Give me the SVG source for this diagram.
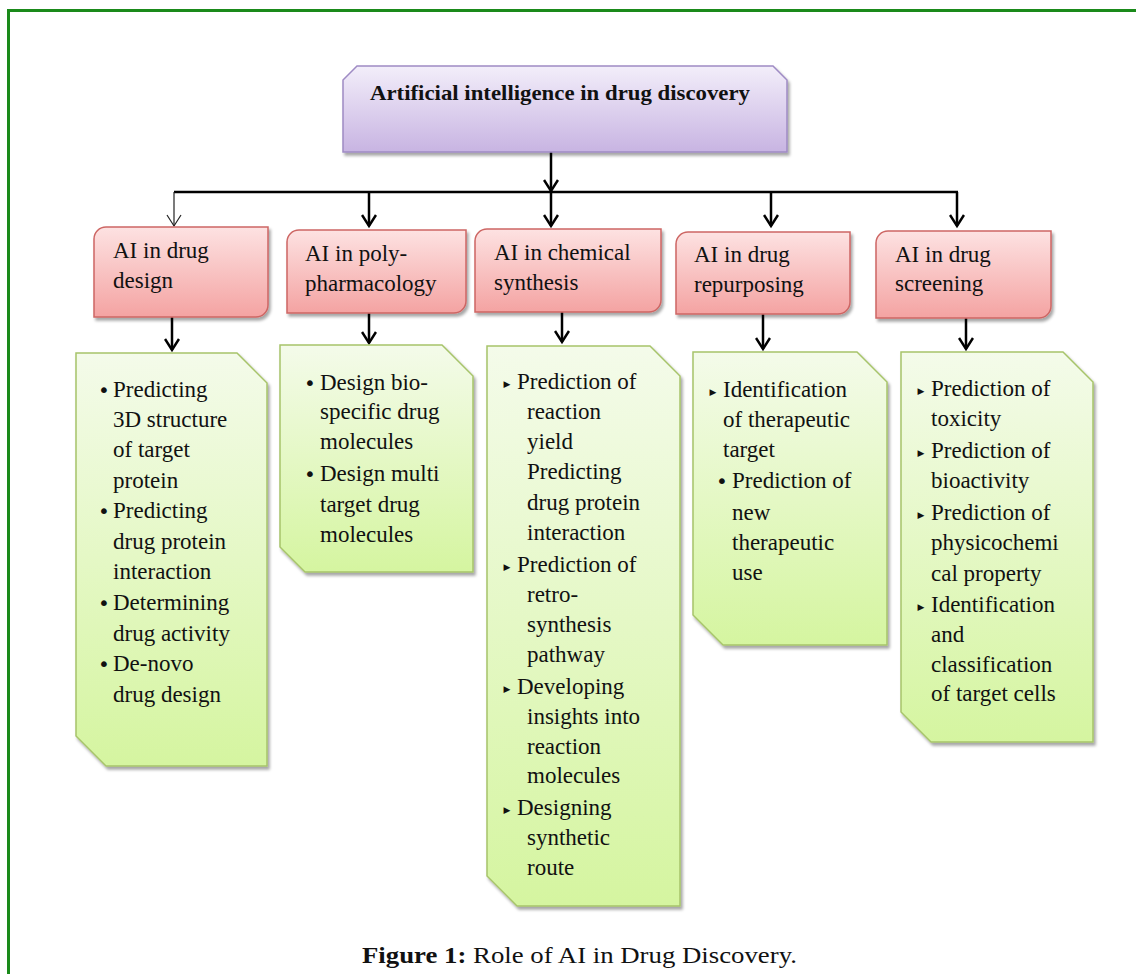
<svg xmlns="http://www.w3.org/2000/svg" width="1136" height="974" viewBox="0 0 1136 974">
<defs>
<linearGradient id="gTitle" x1="0" y1="0" x2="0" y2="1"><stop offset="0" stop-color="#f3eefa"/><stop offset="1" stop-color="#c8b4e2"/></linearGradient>
<linearGradient id="gRed" x1="0" y1="0" x2="0" y2="1"><stop offset="0" stop-color="#fde2e2"/><stop offset="1" stop-color="#f4a3a2"/></linearGradient>
<linearGradient id="gGreen" x1="0" y1="0" x2="0" y2="1"><stop offset="0" stop-color="#f4fbea"/><stop offset="1" stop-color="#d5f5a0"/></linearGradient>
<filter id="sh" x="-10%" y="-10%" width="130%" height="130%"><feDropShadow dx="2" dy="3" stdDeviation="1.5" flood-color="#000" flood-opacity="0.35"/></filter>
<marker id="ah" markerUnits="userSpaceOnUse" markerWidth="16" markerHeight="16" viewBox="-12 -8 14 16" refX="0" refY="0" orient="auto"><path d="M-11,-7 L0,0 L-11,7" fill="none" stroke="#000" stroke-width="2.5"/></marker>
<marker id="ahThin" markerUnits="userSpaceOnUse" markerWidth="16" markerHeight="16" viewBox="-12 -8 14 16" refX="0" refY="0" orient="auto"><path d="M-11,-7 L0,0 L-11,7" fill="none" stroke="#222" stroke-width="1.2"/></marker>
</defs>
<style>
.title{fill:url(#gTitle);stroke:#9f8bc4;stroke-width:1.5}
.red{fill:url(#gRed);stroke:#cd6664;stroke-width:1.5}
.green{fill:url(#gGreen);stroke:#a7c46a;stroke-width:1.5}
.ttl{font-family:"Liberation Serif",serif;font-weight:bold;font-size:21px;fill:#111}
.rt{font-family:"Liberation Serif",serif;font-size:23px;fill:#111}
.gt{font-family:"Liberation Serif",serif;font-size:23px;fill:#111}
.bl{font-family:"DejaVu Sans",sans-serif;font-size:20px;fill:#111;text-anchor:middle}
.tb{font-family:"DejaVu Sans",sans-serif;font-size:9px;fill:#111;text-anchor:middle}
.cap{font-family:"Liberation Serif",serif;font-size:24px;fill:#111}
.c{stroke:#000;stroke-width:2.5;fill:none}
</style>
<rect width="1136" height="974" fill="#fff"/>
<path d="M8.5,974 V10.5 H1136" fill="none" stroke="#1a8a1a" stroke-width="3"/>

<g id="connectors">
<line class="c" x1="551" y1="152" x2="551" y2="191" marker-end="url(#ah)"/>
<line class="c" x1="174" y1="192" x2="958" y2="192"/>
<line x1="174" y1="192" x2="174" y2="226" stroke="#222" stroke-width="1.2" marker-end="url(#ahThin)"/>
<line class="c" x1="369" y1="192" x2="369" y2="226" marker-end="url(#ah)"/>
<line class="c" x1="551" y1="192" x2="551" y2="226" marker-end="url(#ah)"/>
<line class="c" x1="771" y1="192" x2="771" y2="226" marker-end="url(#ah)"/>
<line class="c" x1="957" y1="192" x2="957" y2="226" marker-end="url(#ah)"/>
<line class="c" x1="172" y1="317" x2="172" y2="350" marker-end="url(#ah)"/>
<line class="c" x1="369" y1="313" x2="369" y2="343" marker-end="url(#ah)"/>
<line class="c" x1="562" y1="312" x2="562" y2="342" marker-end="url(#ah)"/>
<line class="c" x1="763" y1="314" x2="763" y2="349" marker-end="url(#ah)"/>
<line class="c" x1="966" y1="318" x2="966" y2="349" marker-end="url(#ah)"/>
</g>

<g id="title">
<path class="title" filter="url(#sh)" d="M343,80 L357,66 H773 L787,80 V152 H343 Z"/>
<text class="ttl" x="370" y="100" textLength="380" lengthAdjust="spacingAndGlyphs">Artificial intelligence in drug discovery</text>
</g>

<g id="red1">
<path class="red" filter="url(#sh)" d="M94,239 A12,12 0 0 1 106,227 H268 V305 A12,12 0 0 1 256,317 H94 Z"/>
<text class="rt" x="113" y="258">AI in drug</text>
<text class="rt" x="113" y="288">design</text>
</g>
<g id="red2">
<path class="red" filter="url(#sh)" d="M287,242 A12,12 0 0 1 299,230 H466 V301 A12,12 0 0 1 454,313 H287 Z"/>
<text class="rt" x="305" y="261">AI in poly-</text>
<text class="rt" x="305" y="291">pharmacology</text>
</g>
<g id="red3">
<path class="red" filter="url(#sh)" d="M475,241 A12,12 0 0 1 487,229 H661 V300 A12,12 0 0 1 649,312 H475 Z"/>
<text class="rt" x="494" y="260">AI in chemical</text>
<text class="rt" x="494" y="290">synthesis</text>
</g>
<g id="red4">
<path class="red" filter="url(#sh)" d="M676,244 A12,12 0 0 1 688,232 H850 V302 A12,12 0 0 1 838,314 H676 Z"/>
<text class="rt" x="694" y="262">AI in drug</text>
<text class="rt" x="694" y="292">repurposing</text>
</g>
<g id="red5">
<path class="red" filter="url(#sh)" d="M876,243 A12,12 0 0 1 888,231 H1051 V306 A12,12 0 0 1 1039,318 H876 Z"/>
<text class="rt" x="895" y="262">AI in drug</text>
<text class="rt" x="895" y="291">screening</text>
</g>

<g id="green1">
<path class="green" filter="url(#sh)" d="M76,353 H237 L267,383 V766 H106 L76,736 Z"/>
<text class="bl" x="104" y="397">•</text>
<text class="bl" x="104" y="518">•</text>
<text class="bl" x="104" y="610">•</text>
<text class="bl" x="104" y="671">•</text>
<text class="gt" x="113" y="397">Predicting</text>
<text class="gt" x="113" y="427">3D structure</text>
<text class="gt" x="113" y="457">of target</text>
<text class="gt" x="113" y="488">protein</text>
<text class="gt" x="113" y="518">Predicting</text>
<text class="gt" x="113" y="549">drug protein</text>
<text class="gt" x="113" y="579">interaction</text>
<text class="gt" x="113" y="610">Determining</text>
<text class="gt" x="113" y="641">drug activity</text>
<text class="gt" x="113" y="671">De-novo</text>
<text class="gt" x="113" y="702">drug design</text>
</g>

<g id="green2">
<path class="green" filter="url(#sh)" d="M280,345 H442 L473,376 V572 H305 L280,547 Z"/>
<text class="bl" x="310" y="390">•</text>
<text class="bl" x="310" y="481">•</text>
<text class="gt" x="320" y="390">Design bio-</text>
<text class="gt" x="320" y="419">specific drug</text>
<text class="gt" x="320" y="449">molecules</text>
<text class="gt" x="320" y="481">Design multi</text>
<text class="gt" x="320" y="512">target drug</text>
<text class="gt" x="320" y="542">molecules</text>
</g>

<g id="green3">
<path class="green" filter="url(#sh)" d="M487,346 H650 L680,376 V906 H517 L487,876 Z"/>
<text class="tb" x="507" y="387">▶</text>
<text class="tb" x="507" y="570">▶</text>
<text class="tb" x="507" y="692">▶</text>
<text class="tb" x="507" y="813">▶</text>
<text class="gt" x="517" y="389">Prediction of</text>
<text class="gt" x="527" y="419">reaction</text>
<text class="gt" x="527" y="449">yield</text>
<text class="gt" x="527" y="479">Predicting</text>
<text class="gt" x="527" y="510">drug protein</text>
<text class="gt" x="527" y="540">interaction</text>
<text class="gt" x="517" y="572">Prediction of</text>
<text class="gt" x="527" y="602">retro-</text>
<text class="gt" x="527" y="632">synthesis</text>
<text class="gt" x="527" y="662">pathway</text>
<text class="gt" x="517" y="694">Developing</text>
<text class="gt" x="527" y="724">insights into</text>
<text class="gt" x="527" y="754">reaction</text>
<text class="gt" x="527" y="783">molecules</text>
<text class="gt" x="517" y="815">Designing</text>
<text class="gt" x="527" y="845">synthetic</text>
<text class="gt" x="527" y="875">route</text>
</g>

<g id="green4">
<path class="green" filter="url(#sh)" d="M693,352 H857 L887,382 V645 H723 L693,615 Z"/>
<text class="tb" x="713" y="395">▶</text>
<text class="bl" x="722" y="488">•</text>
<text class="gt" x="723" y="397">Identification</text>
<text class="gt" x="723" y="427">of therapeutic</text>
<text class="gt" x="723" y="457">target</text>
<text class="gt" x="732" y="488">Prediction of</text>
<text class="gt" x="732" y="520">new</text>
<text class="gt" x="732" y="550">therapeutic</text>
<text class="gt" x="732" y="580">use</text>
</g>

<g id="green5">
<path class="green" filter="url(#sh)" d="M901,352 H1063 L1093,382 V742 H931 L901,712 Z"/>
<text class="tb" x="921" y="394">▶</text>
<text class="tb" x="921" y="456">▶</text>
<text class="tb" x="921" y="518">▶</text>
<text class="tb" x="921" y="610">▶</text>
<text class="gt" x="931" y="396">Prediction of</text>
<text class="gt" x="931" y="426">toxicity</text>
<text class="gt" x="931" y="458">Prediction of</text>
<text class="gt" x="931" y="488">bioactivity</text>
<text class="gt" x="931" y="520">Prediction of</text>
<text class="gt" x="931" y="550">physicochemi</text>
<text class="gt" x="931" y="581">cal property</text>
<text class="gt" x="931" y="612">Identification</text>
<text class="gt" x="931" y="642">and</text>
<text class="gt" x="931" y="672">classification</text>
<text class="gt" x="931" y="701">of target cells</text>
</g>

<g id="caption">
<text class="cap" x="362" y="963" textLength="435" lengthAdjust="spacingAndGlyphs"><tspan font-weight="bold">Figure 1:</tspan> Role of AI in Drug Discovery.</text>
</g>
</svg>
